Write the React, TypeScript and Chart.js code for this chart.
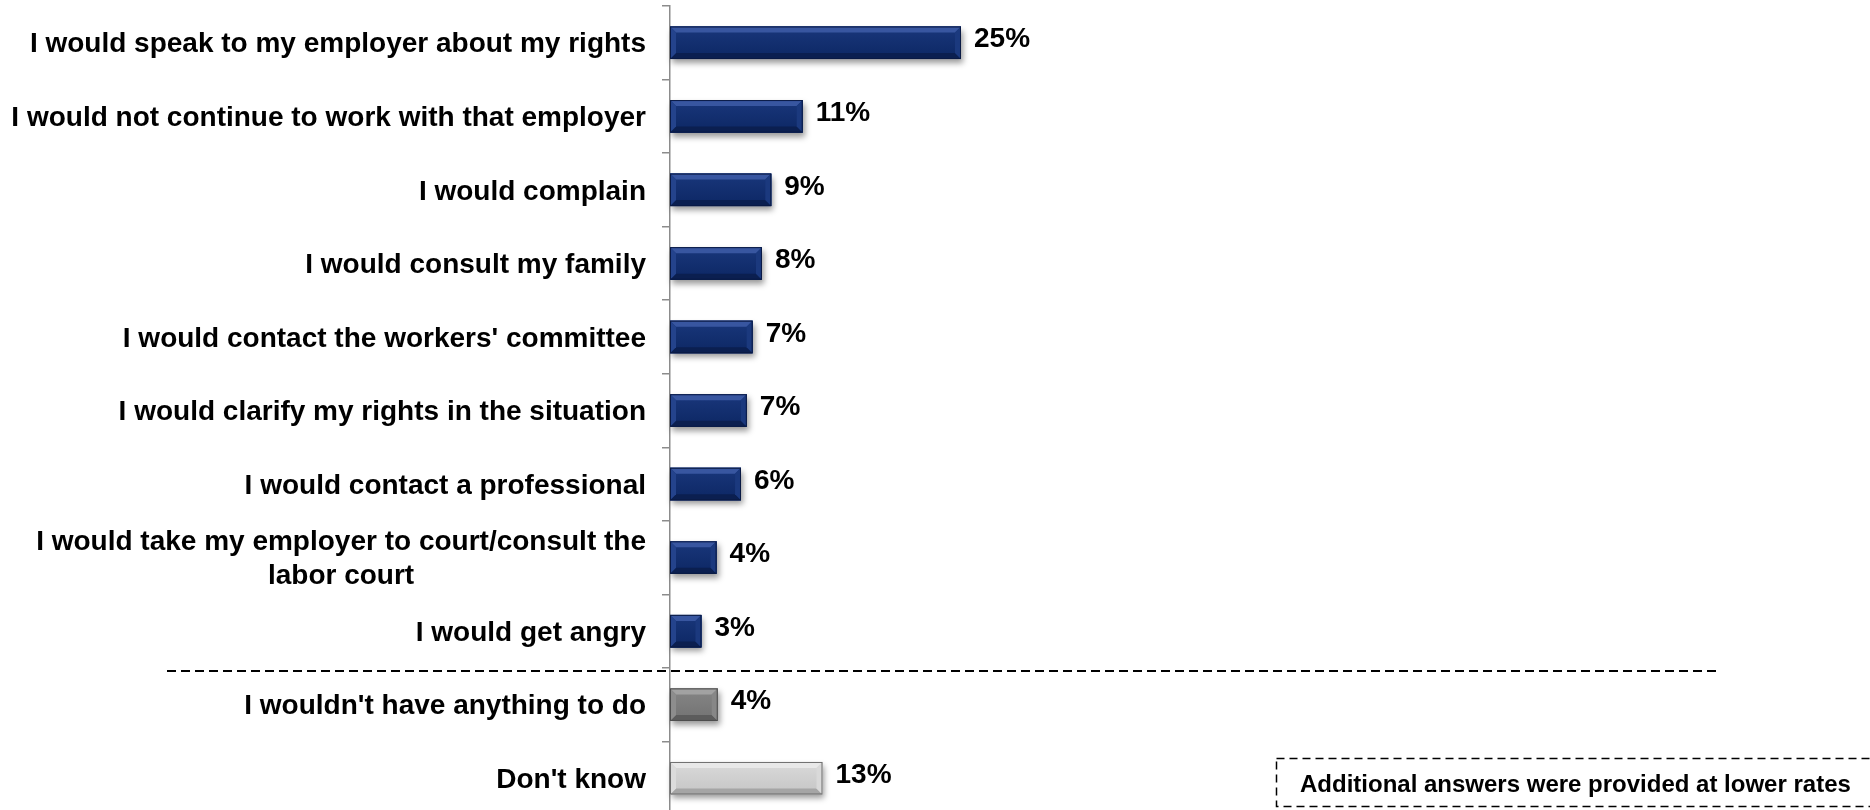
import React, { useEffect, useRef } from "react";
import { Chart, registerables } from "chart.js";

Chart.register(...registerables);

const categories: string[][] = [
  ["I would speak to my employer about my rights"],
  ["I would not continue to work with that employer"],
  ["I would complain"],
  ["I would consult my family"],
  ["I would contact the workers' committee"],
  ["I would clarify my rights in the situation"],
  ["I would contact a professional"],
  ["I would take my employer to court/consult the", "labor court"],
  ["I would get angry"],
  ["I wouldn't have anything to do"],
  ["Don't know"],
];

const values = [25, 11.4, 8.7, 7.9, 7.1, 6.6, 6.1, 4.0, 2.7, 4.1, 13.1];
const valueLabels = ["25%", "11%", "9%", "8%", "7%", "7%", "6%", "4%", "3%", "4%", "13%"];
const barKinds = ["navy", "navy", "navy", "navy", "navy", "navy", "navy", "navy", "navy", "gray", "light"];
const separatorAfterIndex = 8;
const noteText = "Additional answers were provided at lower rates";

const FONT = '"Liberation Sans", Arial, Helvetica, sans-serif';

const PALETTE: Record<string, any> = {
  navy: { face1: "#173477", face2: "#0f2a68", top: "#3856a0", left: "#24438c", right: "#1b397e", bottom: "#0b1f50", border: "#0a1a44" },
  gray: { face1: "#828282", face2: "#767676", top: "#a2a2a2", left: "#8d8d8d", right: "#878787", bottom: "#5c5c5c", border: "#4c4c4c" },
  light: { face1: "#d6d6d6", face2: "#c9c9c9", top: "#e8e8e8", left: "#dcdcdc", right: "#d9d9d9", bottom: "#a5a5a5", border: "#6f6f6f" },
};

function poly(ctx: CanvasRenderingContext2D, pts: number[][], color: string) {
  ctx.beginPath();
  ctx.moveTo(pts[0][0], pts[0][1]);
  for (let i = 1; i < pts.length; i++) ctx.lineTo(pts[i][0], pts[i][1]);
  ctx.closePath();
  ctx.fillStyle = color;
  ctx.fill();
}

function barRect(el: any) {
  const p = el.getProps(["x", "y", "base", "height"], true);
  const L = Math.min(p.x, p.base);
  const R = Math.max(p.x, p.base);
  const T = p.y - p.height / 2;
  const B = p.y + p.height / 2;
  return { L, R, T, B, cy: p.y };
}

const decorPlugin = {
  id: "decor",
  beforeDatasetsDraw(chart: any) {
    const ctx: CanvasRenderingContext2D = chart.ctx;
    const meta = chart.getDatasetMeta(0);
    meta.data.forEach((el: any, i: number) => {
      const { L, R, T, B } = barRect(el);
      ctx.save();
      ctx.shadowColor = "rgba(0,0,0,0.4)";
      ctx.shadowBlur = 6;
      ctx.shadowOffsetX = 2;
      ctx.shadowOffsetY = 4;
      ctx.fillStyle = PALETTE[barKinds[i]].face2;
      ctx.fillRect(L, T, R - L, B - T);
      ctx.restore();
    });
  },
  afterDatasetsDraw(chart: any) {
    const ctx: CanvasRenderingContext2D = chart.ctx;
    const meta = chart.getDatasetMeta(0);
    meta.data.forEach((el: any, i: number) => {
      const { L, R, T, B, cy } = barRect(el);
      const c = PALETTE[barKinds[i]];
      const d = Math.min(6, (R - L) / 2, (B - T) / 2);
      ctx.save();
      const g = ctx.createLinearGradient(0, T + d, 0, B - d);
      g.addColorStop(0, c.face1);
      g.addColorStop(1, c.face2);
      ctx.fillStyle = g;
      ctx.fillRect(L, T, R - L, B - T);
      poly(ctx, [[L, T], [R, T], [R - d, T + d], [L + d, T + d]], c.top);
      poly(ctx, [[L, B], [R, B], [R - d, B - d], [L + d, B - d]], c.bottom);
      poly(ctx, [[L, T], [L + d, T + d], [L + d, B - d], [L, B]], c.left);
      poly(ctx, [[R, T], [R - d, T + d], [R - d, B - d], [R, B]], c.right);
      ctx.strokeStyle = c.border;
      ctx.lineWidth = 1;
      ctx.strokeRect(L + 0.5, T + 0.5, R - L - 1, B - T - 1);
      ctx.restore();

      ctx.save();
      ctx.font = `bold 28px ${FONT}`;
      ctx.fillStyle = "#000";
      ctx.textAlign = "left";
      ctx.textBaseline = "middle";
      ctx.fillText(valueLabels[i], R + 13, cy - 3);
      ctx.restore();
    });
  },
  afterDraw(chart: any) {
    const ctx: CanvasRenderingContext2D = chart.ctx;
    const yScale = chart.scales.y;
    const labels: string[][] = chart.data.labels;
    ctx.save();
    ctx.font = `bold 28px ${FONT}`;
    ctx.fillStyle = "#000";
    ctx.textBaseline = "middle";
    ctx.textAlign = "center";
    const rightX = yScale.right - 24;
    labels.forEach((lines, i) => {
      const y = yScale.getPixelForValue(i) + 2;
      const maxW = Math.max(...lines.map((l) => ctx.measureText(l).width));
      const cx = rightX - maxW / 2;
      const lh = 34;
      lines.forEach((line, j) => {
        ctx.fillText(line, cx, y + (j - (lines.length - 1) / 2) * lh);
      });
    });
    ctx.restore();

    // separator line
    const sepY = (yScale.getPixelForValue(separatorAfterIndex) + yScale.getPixelForValue(separatorAfterIndex + 1)) / 2 + 3;
    ctx.save();
    ctx.strokeStyle = "#000";
    ctx.lineWidth = 2;
    ctx.setLineDash([9, 5]);
    ctx.beginPath();
    ctx.moveTo(167, sepY);
    ctx.lineTo(1717, sepY);
    ctx.stroke();
    ctx.restore();

    // note box
    ctx.save();
    ctx.strokeStyle = "#000";
    ctx.lineWidth = 1.5;
    ctx.setLineDash([8, 5]);
    ctx.strokeRect(1276.5, 758.5, 640, 48);
    ctx.setLineDash([]);
    ctx.font = `bold 24px ${FONT}`;
    ctx.fillStyle = "#000";
    ctx.textAlign = "left";
    ctx.textBaseline = "middle";
    ctx.fillText(noteText, 1300, 785);
    ctx.restore();
  },
};

export default function App() {
  const canvasRef = useRef<HTMLCanvasElement | null>(null);

  useEffect(() => {
    if (!canvasRef.current) return;
    const chart = new Chart(canvasRef.current, {
      type: "bar",
      data: {
        labels: categories as any,
        datasets: [
          {
            data: values,
            backgroundColor: barKinds.map((k) => PALETTE[k].face2),
            borderWidth: 0,
            categoryPercentage: 1,
            barPercentage: 0.442,
          },
        ],
      },
      options: {
        indexAxis: "y",
        animation: false,
        responsive: true,
        maintainAspectRatio: false,
        layout: { padding: { top: 6, right: 36, bottom: 0, left: 0 } },
        plugins: {
          legend: { display: false },
          tooltip: { enabled: false },
          title: { display: false },
        },
        scales: {
          x: { display: false, min: 0, max: 100 },
          y: {
            type: "category",
            offset: true,
            grid: {
              display: true,
              offset: true,
              drawOnChartArea: false,
              drawTicks: true,
              tickLength: 8,
              color: "#8c8c8c",
              lineWidth: 1.5,
            },
            border: { display: true, color: "#8c8c8c", width: 1.5 },
            ticks: { display: false },
            afterFit: (s: any) => {
              s.width = 670;
            },
          },
        },
      },
      plugins: [decorPlugin],
    });
    return () => chart.destroy();
  }, []);

  return (
    <div style={{ position: "fixed", left: 0, top: 0, width: 1870, height: 815, background: "#fff" }}>
      <canvas ref={canvasRef} />
    </div>
  );
}
